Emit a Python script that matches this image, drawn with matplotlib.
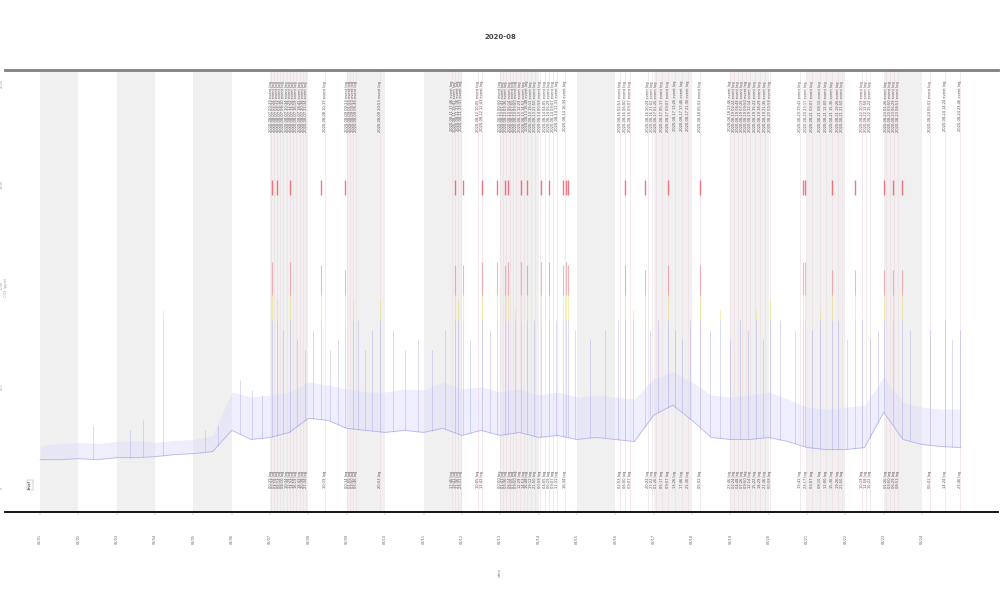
import matplotlib.pyplot as plt
import numpy as np

# day index (x) and level readings
base_x = [i * 0.5 for i in range(49)]
base_y = [0.28, 0.28, 0.29, 0.28, 0.30, 0.30, 0.31, 0.33, 0.34, 0.36,
          0.57, 0.48, 0.50, 0.55, 0.69, 0.67, 0.59, 0.57, 0.55, 0.57,
          0.55, 0.59, 0.52, 0.57, 0.52, 0.55, 0.50, 0.52, 0.48, 0.50,
          0.48, 0.46, 0.72, 0.82, 0.67, 0.50, 0.48, 0.48, 0.50, 0.46,
          0.40, 0.38, 0.38, 0.40, 0.75, 0.48, 0.43, 0.41, 0.40]
# upper edge of the noisy band
band_top = [0.42, 0.44, 0.45, 0.44, 0.46, 0.47, 0.45, 0.47, 0.48, 0.52,
            0.95, 0.90, 0.92, 0.95, 1.05, 1.02, 0.98, 0.95, 0.95, 0.98,
            0.97, 1.05, 0.98, 1.00, 0.95, 0.98, 0.92, 0.95, 0.90, 0.92,
            0.90, 0.88, 1.08, 1.15, 1.05, 0.92, 0.90, 0.92, 0.95, 0.88,
            0.80, 0.78, 0.80, 0.82, 1.10, 0.85, 0.80, 0.78, 0.78]

# single spikes: position and peak
spike_x = [1.38, 2.35, 2.69, 3.21, 4.30, 4.64, 5.22, 5.53, 5.79,
           6.05, 6.18, 6.34, 6.52, 6.70, 6.91, 7.12, 7.33, 7.56, 7.77,
           7.95, 8.16, 8.29, 8.47, 8.66, 8.87, 9.20, 9.52, 9.86, 10.22,
           10.56, 10.82, 10.90, 11.03, 11.21, 11.53, 11.73, 11.92, 12.13,
           12.20, 12.39, 12.54, 12.70, 12.88, 13.06, 13.27, 13.45, 13.64,
           13.72, 13.77, 13.95, 14.34, 14.73, 15.07, 15.25, 15.46, 15.78,
           15.91, 16.11, 16.38, 16.56, 16.74, 16.95, 17.21, 17.47, 17.73,
           17.99, 18.25, 18.46, 18.67, 18.85, 19.04, 19.30, 19.69, 19.90,
           19.95, 20.13, 20.34, 20.65, 20.81, 21.04, 21.25, 21.43, 21.64,
           21.85, 22.01, 22.24, 22.48, 22.69, 23.21, 23.60, 23.78, 23.99]
spike_top = [0.62, 0.57, 0.67, 1.76, 0.57, 0.62, 1.07, 0.97, 0.92,
             2.24, 1.86, 1.56, 2.24, 1.47, 1.37, 1.56, 2.21, 1.37, 1.47,
             2.16, 1.86, 1.66, 1.37, 1.56, 1.86, 1.56, 1.37, 1.47, 1.37,
             1.56, 2.21, 1.86, 2.21, 1.47, 2.24, 1.56, 2.24, 2.21,
             2.24, 1.76, 2.24, 2.21, 1.66, 2.24, 2.24, 1.66, 2.21,
             2.24, 2.21, 1.56, 1.47, 1.56, 1.66, 2.21, 1.76, 2.16,
             1.56, 1.66, 2.21, 1.56, 1.47, 1.66, 2.21, 1.56, 1.76,
             1.47, 1.66, 1.56, 1.76, 1.47, 1.86, 1.66, 1.56, 2.24,
             2.24, 1.56, 1.76, 2.16, 1.66, 1.47, 2.16, 1.66, 1.47,
             1.56, 2.16, 2.16, 2.16, 1.56, 1.56, 1.66, 1.47, 1.56]

# alarm markers
alarm_x = [6.05, 6.18, 6.52, 7.33, 7.95, 10.82, 11.03, 11.53, 11.92, 12.13,
           12.20, 12.54, 12.70, 13.06, 13.27, 13.64, 13.72, 13.77, 15.25,
           15.78, 16.38, 17.21, 19.90, 19.95, 20.65, 21.25, 22.01, 22.24, 22.48]

# logged events
event_x = [6.02, 6.10, 6.18, 6.26, 6.34, 6.44, 6.52, 6.60, 6.68, 6.78, 6.86,
           6.94, 7.43, 8.01, 8.08, 8.16, 8.24, 8.87, 10.74, 10.82, 10.90,
           10.98, 11.42, 11.53, 12.00, 12.07, 12.15, 12.26, 12.33, 12.41,
           12.52, 12.62, 12.70, 12.80, 12.91, 13.04, 13.17, 13.27, 13.38,
           13.48, 13.69, 15.12, 15.25, 15.38, 15.85, 15.96, 16.06, 16.22,
           16.38, 16.56, 16.74, 16.90, 17.21, 17.99, 18.10, 18.20, 18.31,
           18.41, 18.51, 18.64, 18.77, 18.90, 19.04, 19.82, 19.97, 20.13,
           20.34, 20.50, 20.65, 20.81, 20.91, 21.43, 21.54, 21.64, 22.06,
           22.16, 22.27, 22.37, 23.21, 23.60, 23.99]

days = ['08/%02d' % d for d in range(1, 25)]
y_ticks = [0, 1, 2, 3, 4]
y_labels = ['0', '500', '1000', '1500', '2000']
warn_level = 1.66
alarm_level = 1.91

fig = plt.figure(figsize=(10, 6), dpi=100)
ax = fig.add_axes([0.005, 0.1467, 0.993, 0.7367])

# alternating day shading
for d in range(0, 24, 2):
    ax.axvspan(d, d + 1, color='#f0f0f0', lw=0, zorder=0)

# event lines
for x in event_x:
    ax.axvline(x, color='#f0dde4', lw=0.6, alpha=0.8, zorder=1)

# noisy band and line
ax.fill_between(base_x, base_y, band_top, color='#dedefa', alpha=0.5, lw=0, zorder=2)
ax.plot(base_x, base_y, color='#8080ea', lw=0.6, alpha=0.5, zorder=3)

# spikes coloured by level
for x, top in zip(spike_x, spike_top):
    b = np.interp(x, base_x, base_y)
    ax.vlines(x, b, min(top, warn_level), color='#8a8aec', lw=0.7, alpha=0.3, zorder=3)
    if top > warn_level:
        ax.vlines(x, warn_level, min(top, alarm_level), color='#ece27a', lw=0.8, alpha=0.55, zorder=3)
    if top > alarm_level:
        ax.vlines(x, alarm_level, top, color='#ec5a6a', lw=0.8, alpha=0.45, zorder=3)

for x in alarm_x:
    ax.vlines(x, 2.9, 3.05, color='#ec4a5a', lw=1.0, alpha=0.75, zorder=4)

# event labels, top and bottom
for x in event_x:
    day = int(x) + 1
    mins = int(round((x - int(x)) * 24 * 60))
    hhmm = '%02d:%02d' % (mins // 60, mins % 60)
    ax.text(x, 4.03, '2020-08-%02d %s event log' % (day, hhmm), rotation=90,
            fontsize=2.6, color='#555555', ha='center', va='top', zorder=5)
    ax.text(x, 0.17, '%s log' % hhmm, rotation=90,
            fontsize=2.6, color='#555555', ha='center', va='top', zorder=5)

ax.text(-0.26, 0.03, 'level', rotation=90, fontsize=2.6, ha='center', va='center',
        bbox=dict(boxstyle='square,pad=0.3', fc='white', ec='#999999', lw=0.3))

ax.set_xlim(-0.913, 24.98)
ax.set_ylim(-0.238, 4.139)
ax.set_xticks(range(24))
ax.set_xticklabels(days, rotation=90, fontsize=2.5, color='#666666')
ax.tick_params(axis='x', length=2, width=0.3, pad=14, color='#999999')
ax.set_yticks(y_ticks)
ax.set_yticklabels(y_labels, rotation=90, fontsize=2.5, color='#999999', va='center')
ax.tick_params(axis='y', length=0, pad=1)

for s in ['left', 'right']:
    ax.spines[s].set_visible(False)
ax.spines['top'].set_color('#808080')
ax.spines['top'].set_linewidth(2)
ax.spines['bottom'].set_color('black')
ax.spines['bottom'].set_linewidth(1.3)

fig.text(0.5, 1 - 37 / 600, '2020-08', fontsize=5, fontweight='bold', ha='center', va='center', color='#444444')
fig.text(0.5, 1 - 572 / 600, 'date', rotation=90, fontsize=3, ha='center', va='center', color='#888888')
fig.text(0.004, 1 - 287 / 600, 'CO2 (ppm)', rotation=90, fontsize=2.5, ha='left', va='center', color='#999999')

fig.savefig('out.png', dpi=100)
